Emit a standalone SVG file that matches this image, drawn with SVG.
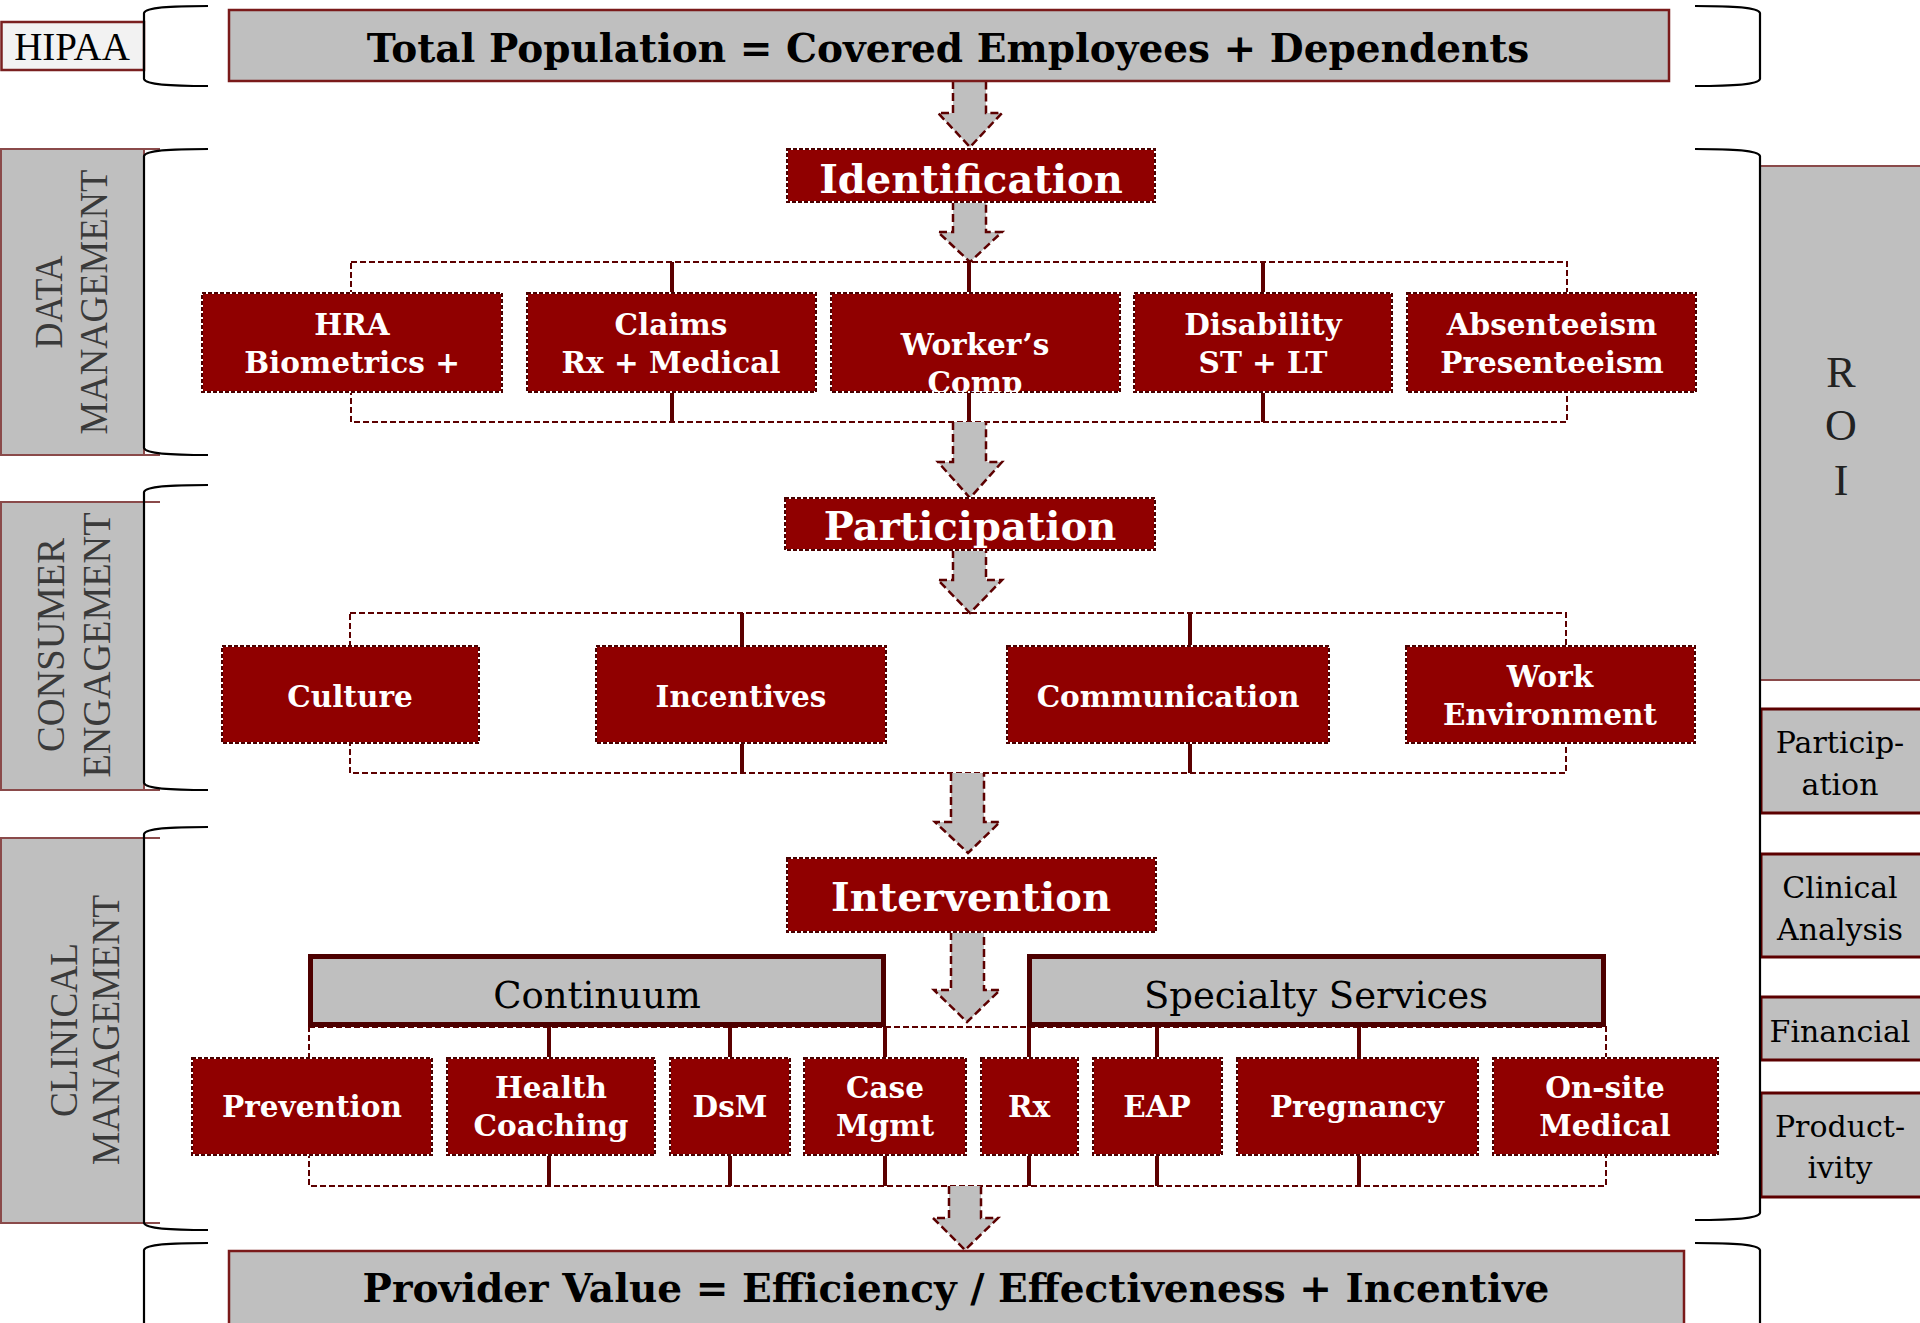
<svg xmlns="http://www.w3.org/2000/svg" width="1920" height="1323" viewBox="0 0 1920 1323">
  <defs>
    <style>
      .node { fill: #900000; stroke: #ffffff; stroke-width: 2; }
      .nodeEdge { fill: none; stroke: #4a0000; stroke-width: 2; stroke-dasharray: 4 2; }
      .nt { font-family: "DejaVu Serif", serif; font-weight: bold; font-size: 29.5px; fill: #ffffff; text-anchor: middle; }
      .head { font-family: "DejaVu Serif", serif; font-weight: bold; font-size: 40px; fill: #ffffff; text-anchor: middle; }
      .banner { fill: #bfbfbf; stroke: #7a1a1a; stroke-width: 2.5; }
      .bannerText { font-family: "DejaVu Serif", serif; font-weight: bold; font-size: 39px; fill: #000000; text-anchor: middle; }
      .group { fill: #bfbfbf; stroke: #4d0000; stroke-width: 5; }
      .groupText { font-family: "DejaVu Serif", serif; font-size: 37px; fill: #000000; text-anchor: middle; }
      .side { fill: #bfbfbf; stroke: #8a4a4a; stroke-width: 2; }
      .sideLabel { font-family: "Liberation Serif", "Times New Roman", serif; font-size: 40px; fill: #3a3a3a; text-anchor: middle; }
      .metric { fill: #bfbfbf; stroke: #5c0000; stroke-width: 3; }
      .metricText { font-family: "DejaVu Serif", serif; font-size: 30px; fill: #000000; text-anchor: middle; }
      .brace { fill: none; stroke: #000000; stroke-width: 2.2; }
      .dash { fill: none; stroke: #5c0000; stroke-width: 2; stroke-dasharray: 6 3; }
      .solid { fill: none; stroke: #5c0000; stroke-width: 4; }
      .arrow { fill: #bfbfbf; stroke: #5c0000; stroke-width: 2.5; stroke-dasharray: 8 4; }
    </style>
    <clipPath id="clipWorkers"><rect x="831" y="293" width="289" height="99"/></clipPath>
  </defs>

  <rect x="0" y="0" width="1920" height="1323" fill="#ffffff"/>

  <!-- Left category labels -->
  <g id="hipaa">
    <rect x="1.5" y="22" width="142.5" height="48" fill="#f2f2f2" stroke="#7a2020" stroke-width="2.5"/>
    <text x="72" y="60" font-family="Liberation Serif, Times New Roman, serif" font-size="39" fill="#000" text-anchor="middle">HIPAA</text>
  </g>
  <g id="data-management">
    <rect class="side" x="1" y="149" width="143" height="306"/>
    <line x1="0" y1="149" x2="160" y2="149" stroke="#8a4a4a" stroke-width="2"/>
    <line x1="0" y1="455" x2="160" y2="455" stroke="#8a4a4a" stroke-width="2"/>
    <text class="sideLabel" transform="translate(62,302) rotate(-90)" textLength="93" lengthAdjust="spacingAndGlyphs">DATA</text>
    <text class="sideLabel" transform="translate(107,302) rotate(-90)" textLength="265" lengthAdjust="spacingAndGlyphs">MANAGEMENT</text>
  </g>
  <g id="consumer-engagement">
    <rect class="side" x="1" y="502" width="143" height="288"/>
    <line x1="0" y1="502" x2="160" y2="502" stroke="#8a4a4a" stroke-width="2"/>
    <line x1="0" y1="790" x2="160" y2="790" stroke="#8a4a4a" stroke-width="2"/>
    <text class="sideLabel" transform="translate(64,645) rotate(-90)" textLength="214" lengthAdjust="spacingAndGlyphs">CONSUMER</text>
    <text class="sideLabel" transform="translate(110,645) rotate(-90)" textLength="265" lengthAdjust="spacingAndGlyphs">ENGAGEMENT</text>
  </g>
  <g id="clinical-management">
    <rect class="side" x="1" y="838" width="143" height="385"/>
    <line x1="0" y1="838" x2="160" y2="838" stroke="#8a4a4a" stroke-width="2"/>
    <line x1="0" y1="1223" x2="160" y2="1223" stroke="#8a4a4a" stroke-width="2"/>
    <text class="sideLabel" transform="translate(77,1030) rotate(-90)" textLength="174" lengthAdjust="spacingAndGlyphs">CLINICAL</text>
    <text class="sideLabel" transform="translate(119,1030) rotate(-90)" textLength="270" lengthAdjust="spacingAndGlyphs">MANAGEMENT</text>
  </g>

  <!-- Right metric column -->
  <g id="roi">
    <rect class="side" x="1760" y="166" width="162" height="514"/>
    <text x="1841" y="387" font-family="Liberation Serif, Times New Roman, serif" font-size="44" fill="#222" text-anchor="middle">R</text>
    <text x="1841" y="440" font-family="Liberation Serif, Times New Roman, serif" font-size="44" fill="#222" text-anchor="middle">O</text>
    <text x="1841" y="495" font-family="Liberation Serif, Times New Roman, serif" font-size="44" fill="#222" text-anchor="middle">I</text>
  </g>
  <g id="participation-metric">
    <rect class="metric" x="1761" y="709" width="162" height="104"/>
    <text class="metricText" x="1840" y="753">Particip-</text>
    <text class="metricText" x="1840" y="795">ation</text>
  </g>
  <g id="clinical-analysis">
    <rect class="metric" x="1761" y="854" width="162" height="103"/>
    <text class="metricText" x="1840" y="898">Clinical</text>
    <text class="metricText" x="1840" y="940">Analysis</text>
  </g>
  <g id="financial">
    <rect class="metric" x="1761" y="997" width="162" height="63"/>
    <text class="metricText" x="1840" y="1042">Financial</text>
  </g>
  <g id="productivity">
    <rect class="metric" x="1761" y="1093" width="162" height="104"/>
    <text class="metricText" x="1840" y="1137">Product-</text>
    <text class="metricText" x="1840" y="1178">ivity</text>
  </g>

  <!-- Brackets -->
  <g id="brackets">
    <path class="brace" d="M208,6 C170,6 146,7 144,13 V79 C146,85 170,86 208,86"/>
    <path class="brace" d="M208,149 C170,149 146,150 144,156 V448 C146,454 170,455 208,455"/>
    <path class="brace" d="M208,485 C170,485 146,486 144,492 V783 C146,789 170,790 208,790"/>
    <path class="brace" d="M208,827 C170,827 146,828 144,834 V1223 C146,1229 170,1230 208,1230"/>
    <path class="brace" d="M208,1243 C170,1243 146,1244 144,1250 V1340"/>
    <path class="brace" d="M1695,6 C1733,6 1758,7 1760,13 V79 C1758,85 1733,86 1695,86"/>
    <path class="brace" d="M1695,149 C1733,149 1758,150 1760,156 V1213 C1758,1219 1733,1220 1695,1220"/>
    <path class="brace" d="M1695,1243 C1733,1243 1758,1244 1760,1250 V1340"/>
  </g>

  <!-- Connectors -->
  <g id="connectors">
    <!-- identification sources -->
    <rect class="dash" x="351" y="262" width="1216" height="160"/>
    <line class="solid" x1="672" y1="262" x2="672" y2="422"/>
    <line class="solid" x1="969" y1="262" x2="969" y2="422"/>
    <line class="solid" x1="1263" y1="262" x2="1263" y2="422"/>
    <!-- participation levers -->
    <rect class="dash" x="350" y="613" width="1216" height="160"/>
    <line class="solid" x1="742" y1="613" x2="742" y2="773"/>
    <line class="solid" x1="1190" y1="613" x2="1190" y2="773"/>
    <!-- intervention programs -->
    <rect class="dash" x="309" y="1027" width="1297" height="159"/>
    <line class="solid" x1="549" y1="1027" x2="549" y2="1186"/>
    <line class="solid" x1="730" y1="1027" x2="730" y2="1186"/>
    <line class="solid" x1="885" y1="1027" x2="885" y2="1186"/>
    <line class="solid" x1="1029" y1="1027" x2="1029" y2="1186"/>
    <line class="solid" x1="1157" y1="1027" x2="1157" y2="1186"/>
    <line class="solid" x1="1359" y1="1027" x2="1359" y2="1186"/>
    <!-- block arrows -->
    <path class="arrow" d="M953,81 V113 H938 L970,147 L1002,113 H986 V81"/>
    <path class="arrow" d="M953,202 V232 H938 L970,262 L1002,232 H986 V202"/>
    <path class="arrow" d="M953,422 V462 H938 L970,498 L1002,462 H986 V422"/>
    <path class="arrow" d="M953,550 V580 H938 L970,613 L1002,580 H986 V550"/>
    <path class="arrow" d="M951,773 V822 H935 L968,853 L1000,822 H984 V773"/>
    <path class="arrow" d="M951,932 V990 H934 L967,1022 L1000,990 H984 V932"/>
    <path class="arrow" d="M949,1186 V1218 H933 L965,1250 L998,1218 H981 V1186"/>
  </g>

  <!-- Top and bottom banners -->
  <g id="total-population">
    <rect class="banner" x="229" y="10" width="1440" height="71"/>
    <text class="bannerText" x="948" y="62">Total Population = Covered Employees + Dependents</text>
  </g>
  <g id="provider-value">
    <rect class="banner" x="229" y="1251" width="1455" height="80"/>
    <text class="bannerText" x="956" y="1302">Provider Value = Efficiency / Effectiveness + Incentive</text>
  </g>

  <!-- Stage headers -->
  <g id="identification">
    <rect class="node" x="787" y="149" width="368" height="53"/>
    <rect class="nodeEdge" x="787" y="149" width="368" height="53"/>
    <text class="head" x="971" y="193">Identification</text>
  </g>
  <g id="participation">
    <rect class="node" x="785" y="498" width="370" height="52"/>
    <rect class="nodeEdge" x="785" y="498" width="370" height="52"/>
    <text class="head" x="970" y="540">Participation</text>
  </g>
  <g id="intervention">
    <rect class="node" x="787" y="858" width="369" height="74"/>
    <rect class="nodeEdge" x="787" y="858" width="369" height="74"/>
    <text class="head" x="971" y="911">Intervention</text>
  </g>

  <!-- Identification sources -->
  <g id="hra">
    <rect class="node" x="202" y="293" width="300" height="99"/>
    <rect class="nodeEdge" x="202" y="293" width="300" height="99"/>
    <text class="nt" x="352" y="335">HRA</text>
    <text class="nt" x="352" y="373">Biometrics +</text>
  </g>
  <g id="claims">
    <rect class="node" x="527" y="293" width="289" height="99"/>
    <rect class="nodeEdge" x="527" y="293" width="289" height="99"/>
    <text class="nt" x="671" y="335">Claims</text>
    <text class="nt" x="671" y="373">Rx + Medical</text>
  </g>
  <g id="workers-comp">
    <rect class="node" x="831" y="293" width="289" height="99"/>
    <rect class="nodeEdge" x="831" y="293" width="289" height="99"/>
    <g clip-path="url(#clipWorkers)">
      <text class="nt" x="975" y="355">Worker’s</text>
      <text class="nt" x="975" y="393">Comp</text>
    </g>
  </g>
  <g id="disability">
    <rect class="node" x="1134" y="293" width="258" height="99"/>
    <rect class="nodeEdge" x="1134" y="293" width="258" height="99"/>
    <text class="nt" x="1263" y="335">Disability</text>
    <text class="nt" x="1263" y="373">ST + LT</text>
  </g>
  <g id="absenteeism">
    <rect class="node" x="1407" y="293" width="289" height="99"/>
    <rect class="nodeEdge" x="1407" y="293" width="289" height="99"/>
    <text class="nt" x="1552" y="335">Absenteeism</text>
    <text class="nt" x="1552" y="373">Presenteeism</text>
  </g>

  <!-- Participation levers -->
  <g id="culture">
    <rect class="node" x="222" y="646" width="257" height="97"/>
    <rect class="nodeEdge" x="222" y="646" width="257" height="97"/>
    <text class="nt" x="350" y="707">Culture</text>
  </g>
  <g id="incentives">
    <rect class="node" x="596" y="646" width="290" height="97"/>
    <rect class="nodeEdge" x="596" y="646" width="290" height="97"/>
    <text class="nt" x="741" y="707">Incentives</text>
  </g>
  <g id="communication">
    <rect class="node" x="1007" y="646" width="322" height="97"/>
    <rect class="nodeEdge" x="1007" y="646" width="322" height="97"/>
    <text class="nt" x="1168" y="707">Communication</text>
  </g>
  <g id="work-environment">
    <rect class="node" x="1406" y="646" width="289" height="97"/>
    <rect class="nodeEdge" x="1406" y="646" width="289" height="97"/>
    <text class="nt" x="1550" y="687">Work</text>
    <text class="nt" x="1550" y="725">Environment</text>
  </g>

  <!-- Program groups -->
  <g id="continuum">
    <rect class="group" x="310.5" y="956.5" width="573" height="68"/>
    <text class="groupText" x="597" y="1008">Continuum</text>
  </g>
  <g id="specialty-services">
    <rect class="group" x="1029.5" y="956.5" width="574" height="68"/>
    <text class="groupText" x="1316" y="1008">Specialty Services</text>
  </g>

  <!-- Intervention programs -->
  <g id="prevention">
    <rect class="node" x="192" y="1058" width="240" height="97"/>
    <rect class="nodeEdge" x="192" y="1058" width="240" height="97"/>
    <text class="nt" x="312" y="1117">Prevention</text>
  </g>
  <g id="health-coaching">
    <rect class="node" x="447" y="1058" width="208" height="97"/>
    <rect class="nodeEdge" x="447" y="1058" width="208" height="97"/>
    <text class="nt" x="551" y="1098">Health</text>
    <text class="nt" x="551" y="1136">Coaching</text>
  </g>
  <g id="dsm">
    <rect class="node" x="670" y="1058" width="120" height="97"/>
    <rect class="nodeEdge" x="670" y="1058" width="120" height="97"/>
    <text class="nt" x="730" y="1117">DsM</text>
  </g>
  <g id="case-mgmt">
    <rect class="node" x="804" y="1058" width="162" height="97"/>
    <rect class="nodeEdge" x="804" y="1058" width="162" height="97"/>
    <text class="nt" x="885" y="1098">Case</text>
    <text class="nt" x="885" y="1136">Mgmt</text>
  </g>
  <g id="rx">
    <rect class="node" x="981" y="1058" width="97" height="97"/>
    <rect class="nodeEdge" x="981" y="1058" width="97" height="97"/>
    <text class="nt" x="1029" y="1117">Rx</text>
  </g>
  <g id="eap">
    <rect class="node" x="1093" y="1058" width="129" height="97"/>
    <rect class="nodeEdge" x="1093" y="1058" width="129" height="97"/>
    <text class="nt" x="1157" y="1117">EAP</text>
  </g>
  <g id="pregnancy">
    <rect class="node" x="1237" y="1058" width="241" height="97"/>
    <rect class="nodeEdge" x="1237" y="1058" width="241" height="97"/>
    <text class="nt" x="1357" y="1117">Pregnancy</text>
  </g>
  <g id="on-site-medical">
    <rect class="node" x="1493" y="1058" width="225" height="97"/>
    <rect class="nodeEdge" x="1493" y="1058" width="225" height="97"/>
    <text class="nt" x="1605" y="1098">On-site</text>
    <text class="nt" x="1605" y="1136">Medical</text>
  </g>
</svg>
